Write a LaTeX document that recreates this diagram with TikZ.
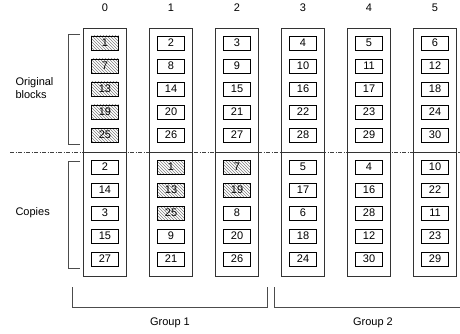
\documentclass[tikz,border=0pt]{standalone}
\usepackage{fontspec}
\setmainfont{Liberation Sans}
\usetikzlibrary{patterns,positioning}

\begin{document}
\begin{tikzpicture}[x=1pt, y=-1pt, every node/.style={font=\fontsize{11}{13}\selectfont}, col/.style={draw=black!80, line width=0.7pt, minimum width=43pt, minimum height=124pt, inner sep=0pt}, blk/.style={draw, line width=0.7pt, minimum width=27pt, minimum height=14pt, inner sep=0pt}, hatch/.style={blk, pattern=north west lines, pattern color=gray}, brace/.style={draw=black!70, line width=0.7pt}, divider/.style={black!75, line width=0.7pt, dash pattern=on 4pt off 1.5pt on 1pt off 1.5pt}]
\useasboundingbox (0,0) rectangle (460,334);
\draw[divider] (10,152)--(460,152);
\foreach \c in {0,...,5}{
  \node (lab\c) at (105+66*\c,8) {\c};
  \node[col] (top\c) at (105+66*\c,90) {};
  \node[col] (bot\c) at (105+66*\c,214) {};
}
% original blocks
\foreach \c in {0,...,5}
  \foreach \r in {0,...,4}{
    \pgfmathtruncatemacro{\v}{6*\r+\c+1}
    \ifnum\c=0 \def\sty{hatch}\else\def\sty{blk}\fi
    \node[\sty] (o\c-\r) at (105+66*\c,43+23*\r) {\v};
  }
% copies
\foreach \c/\vals in {0/{2/blk,14/blk,3/blk,15/blk,27/blk}, 1/{1/hatch,13/hatch,25/hatch,9/blk,21/blk}, 2/{7/hatch,19/hatch,8/blk,20/blk,26/blk}, 3/{5/blk,17/blk,6/blk,18/blk,24/blk}, 4/{4/blk,16/blk,28/blk,12/blk,30/blk}, 5/{10/blk,22/blk,11/blk,23/blk,29/blk}}
  \foreach \v/\sty [count=\r from 0] in \vals
    \node[\sty] (k\c-\r) at (105+66*\c,167+23*\r) {\v};
\draw[brace] (80,34)--(68,34)--(68,144)--(80,144);
\draw[brace] (80,161)--(68,161)--(68,268)--(80,268);
\node[align=left, anchor=west] (orig) at (12,88) {Original\\blocks};
\node[anchor=west] (copies) at (12,213) {Copies};
\draw[brace] (72,287)--(72,307)--(267,307)--(267,287);
\draw[brace] (274,287)--(274,307)--(460,307);
\node (grp1) at (170,323) {Group 1};
\node (grp2) at (373,323) {Group 2};
\end{tikzpicture}
\end{document}
